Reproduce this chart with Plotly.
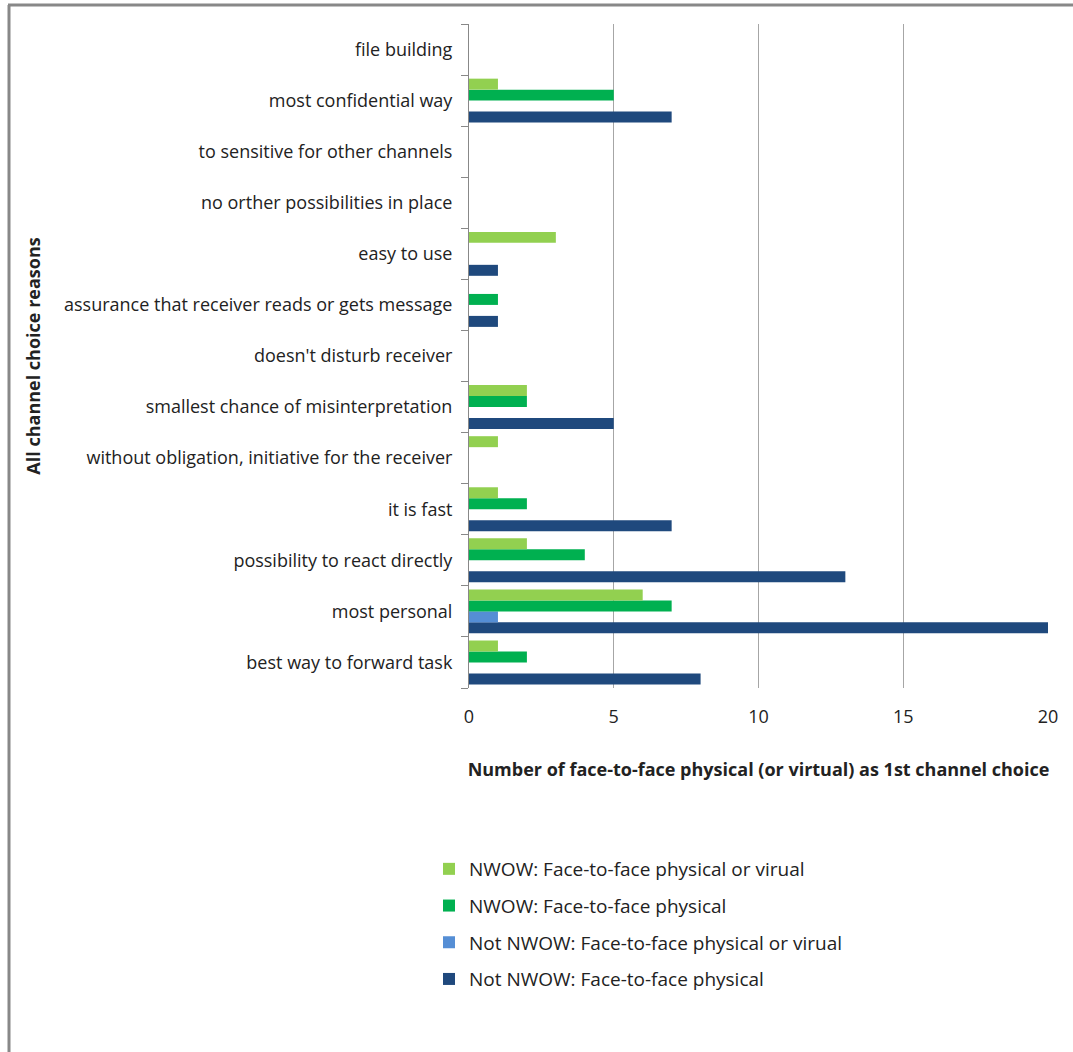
import plotly.graph_objects as go

categories = [
    "best way to forward task",
    "most personal",
    "possibility to react directly",
    "it is fast",
    "without obligation, initiative for the receiver",
    "smallest chance of misinterpretation",
    "doesn't disturb receiver",
    "assurance that receiver reads or gets message",
    "easy to use",
    "no orther possibilities in place",
    "to sensitive for other channels",
    "most confidential way",
    "file building",
]

nwow_phys_or_virt = [1, 6, 2, 1, 1, 2, 0, 0, 3, 0, 0, 1, 0]
nwow_phys = [2, 7, 4, 2, 0, 2, 0, 1, 0, 0, 0, 5, 0]
not_nwow_phys_or_virt = [0, 1, 0, 0, 0, 0, 0, 0, 0, 0, 0, 0, 0]
not_nwow_phys = [8, 20, 13, 7, 0, 5, 0, 1, 1, 0, 0, 7, 0]

series_names = [
    "Not NWOW: Face-to-face physical",
    "Not NWOW: Face-to-face physical or virual",
    "NWOW: Face-to-face physical",
    "NWOW: Face-to-face physical or virual",
]
series_values = [not_nwow_phys, not_nwow_phys_or_virt, nwow_phys, nwow_phys_or_virt]
series_colors = ["#1F497D", "#558ED5", "#00B050", "#92D050"]

W, H = 1073, 1052
ML, MR, MT, MB = 469, 25, 24, 364
pw = W - ML - MR
ph = H - MT - MB

fig = go.Figure()
n = len(series_names)
for i, (name, vals, col) in enumerate(zip(series_names, series_values, series_colors)):
    fig.add_trace(go.Bar(
        y=categories, x=vals, name=name, orientation="h",
        legendgroup=f"g{i}", legendrank=1000 + (n - i),
        marker=dict(color=col, line=dict(width=0)),
    ))

def px_x(p):
    return (p - ML) / pw

def px_y(p):
    return 1 - (p - MT) / ph

font_family = "'Open Sans', sans-serif"

fig.update_layout(
    width=W, height=H,
    margin=dict(l=ML, r=MR, t=MT, b=MB, autoexpand=False),
    paper_bgcolor="white", plot_bgcolor="white",
    barmode="group", bargap=0.14, bargroupgap=0,
    font=dict(family=font_family, size=18, color="#222222"),
    showlegend=True,
    legend=dict(
        traceorder="grouped",
        x=px_x(429), y=px_y(850), xanchor="left", yanchor="top",
        font=dict(size=19, color="#222222"),
        itemwidth=30, tracegroupgap=9,
        bgcolor="rgba(0,0,0,0)",
    ),
    xaxis=dict(
        range=[0, 20], dtick=5, tick0=0,
        showgrid=True, gridcolor="#A6A6A6", gridwidth=1,
        zeroline=False, showline=False, ticks="",
        tickfont=dict(size=18), ticklabelstandoff=16,
        title=dict(text="<b>Number of face-to-face physical (or virtual) as 1st channel choice</b>",
                   font=dict(size=18), standoff=36),
    ),
    yaxis=dict(
        range=[-0.5, 12.5],
        showline=True, linecolor="#888888", linewidth=1,
        ticks="outside", tickson="boundaries", ticklen=7, tickcolor="#888888",
        showgrid=False, automargin=False,
        tickfont=dict(size=18), ticklabelstandoff=12,
        title=dict(text="<b>All channel choice reasons</b>", font=dict(size=18), standoff=18),
    ),
    shapes=[
        dict(type="line", xref="paper", yref="paper",
             x0=px_x(9), x1=px_x(9), y0=px_y(5), y1=px_y(1052),
             line=dict(color="#888888", width=3)),
        dict(type="line", xref="paper", yref="paper",
             x0=px_x(8), x1=px_x(1073), y0=px_y(5), y1=px_y(5),
             line=dict(color="#888888", width=3)),
    ],
)

fig.write_html("out.html")
